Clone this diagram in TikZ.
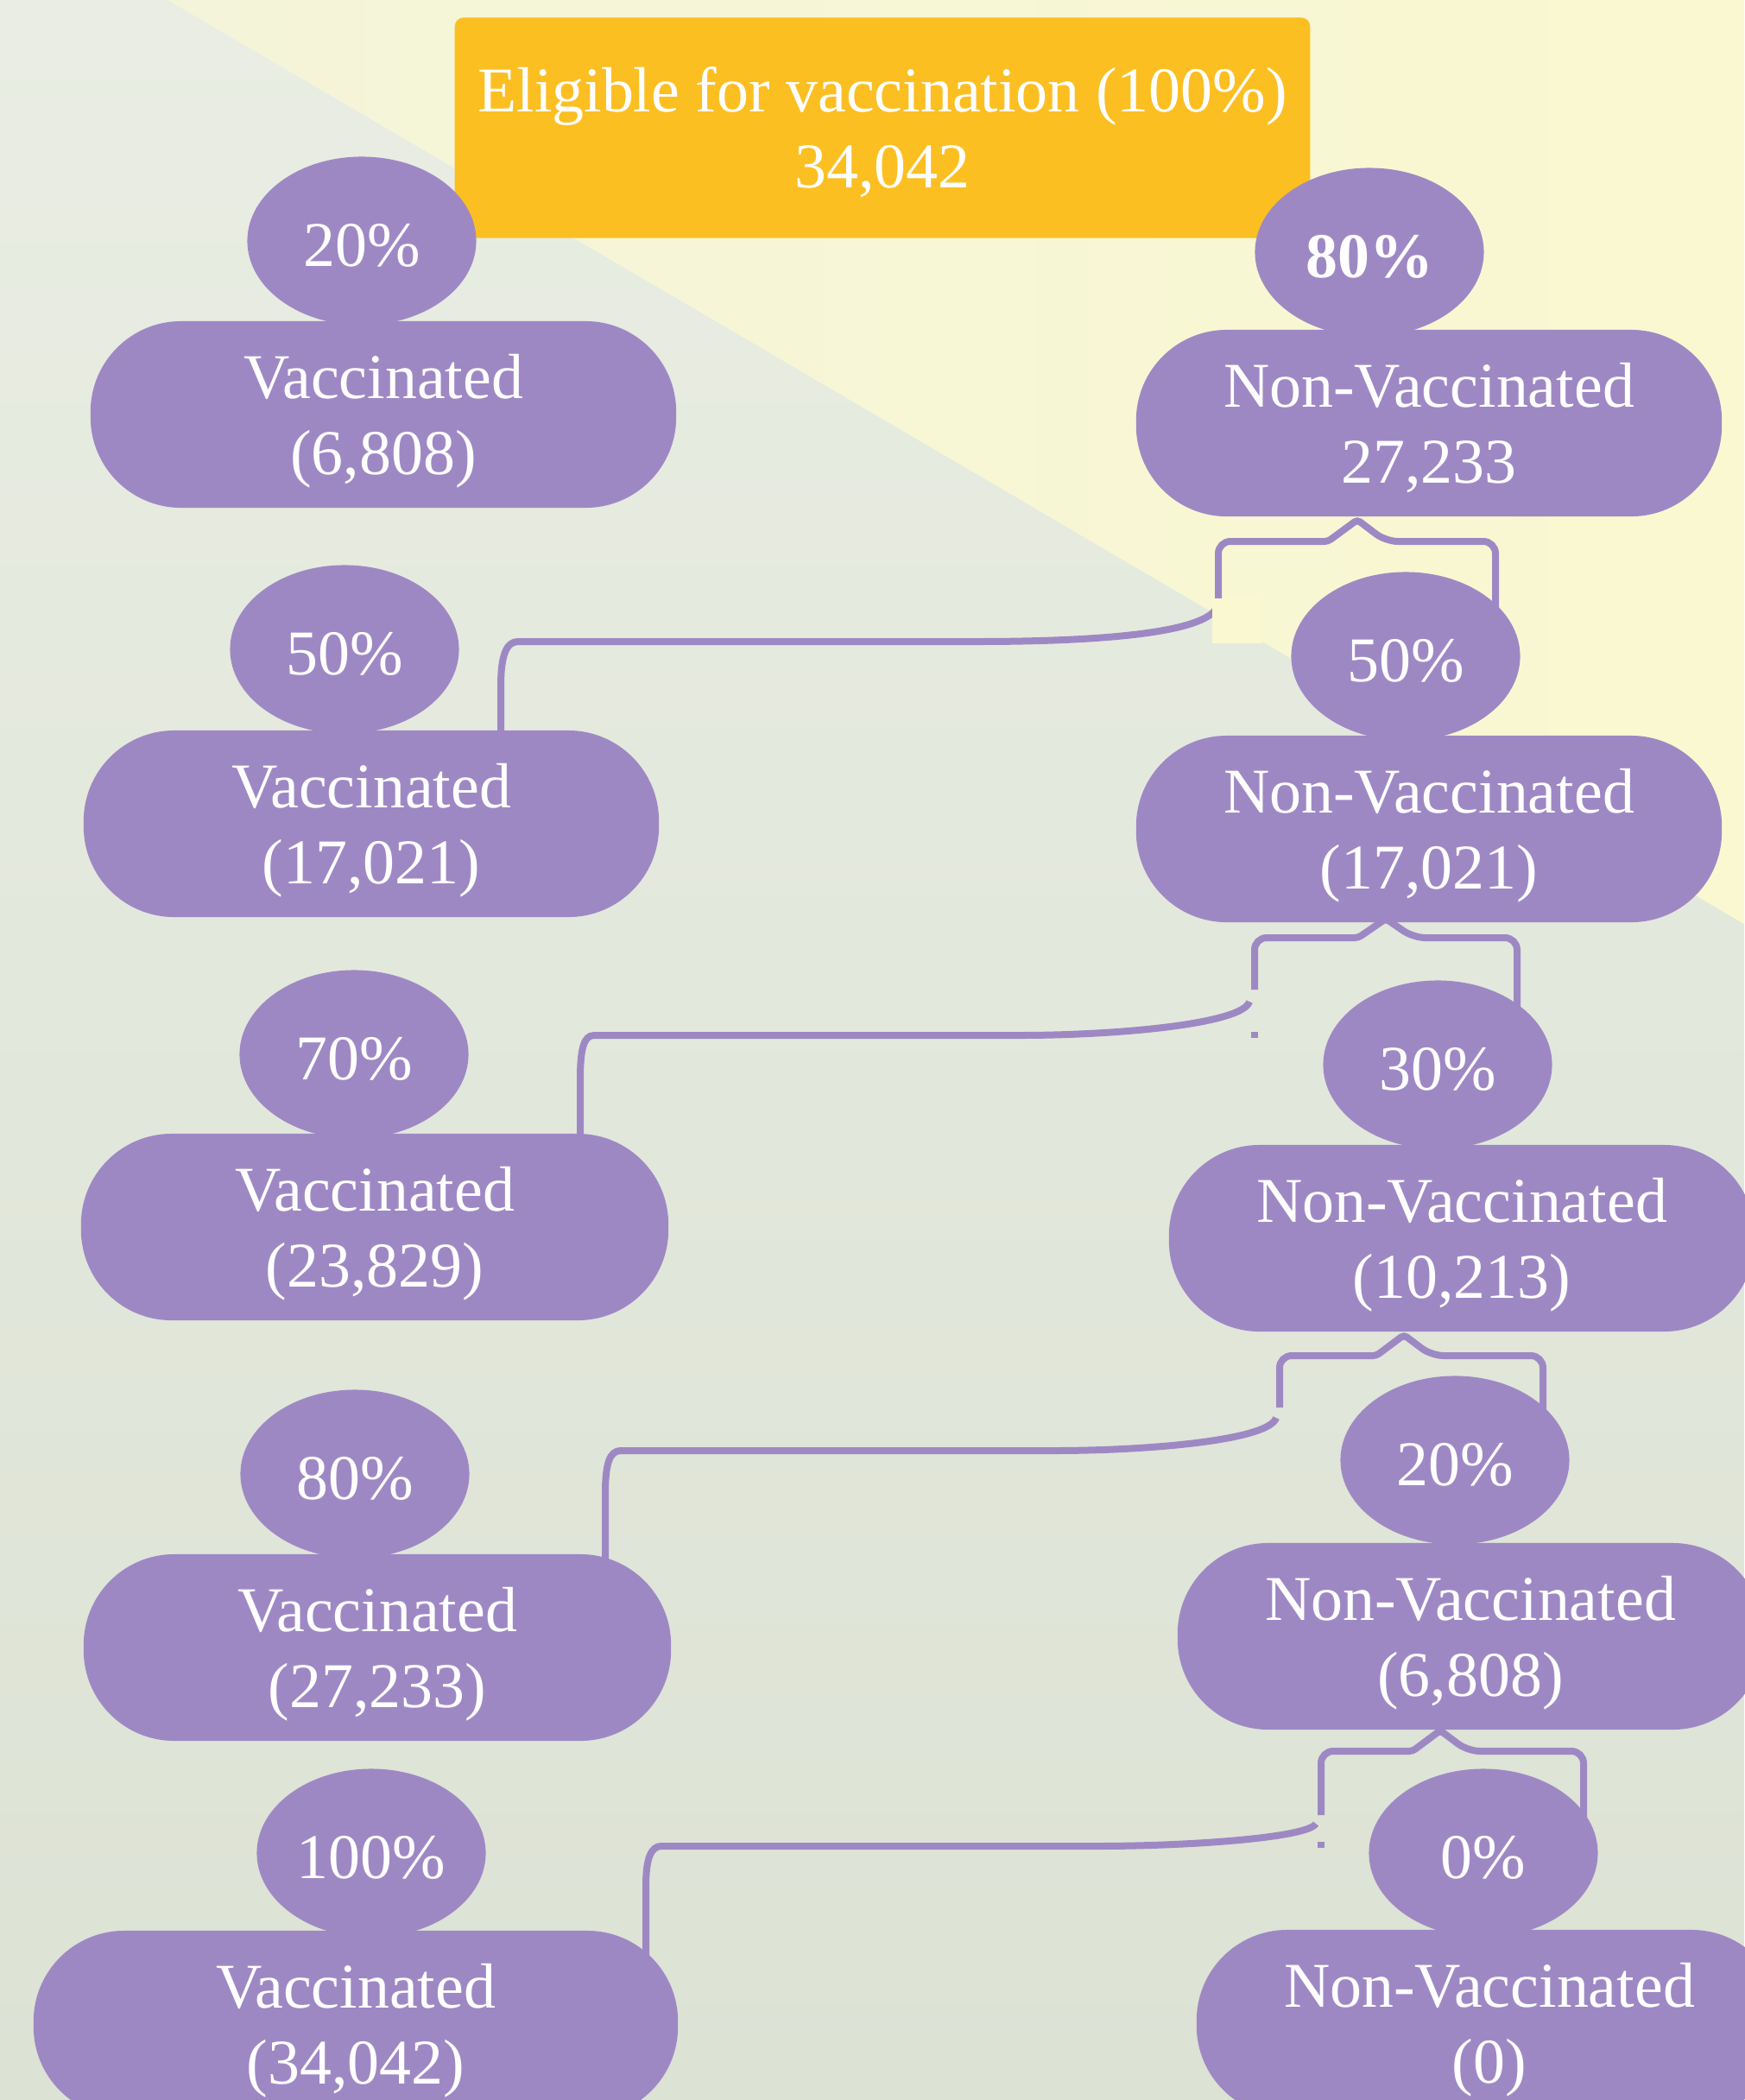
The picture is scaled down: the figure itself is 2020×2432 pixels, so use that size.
\documentclass[tikz,border=0pt]{standalone}
\usepackage{fontspec}
\setmainfont{Liberation Serif}
\usetikzlibrary{shapes.geometric,backgrounds}
\definecolor{lilac}{HTML}{9E88C4}
\definecolor{amber}{HTML}{FCBF22}
\definecolor{sageTop}{HTML}{E9EDE3}
\definecolor{sageBot}{HTML}{DCE2D4}
\definecolor{creamA}{HTML}{F4F4DA}
\definecolor{creamB}{HTML}{FAF8D0}

\begin{document}
\begin{tikzpicture}[x=0.01cm, y=-0.01cm,
  pct/.style={ellipse, fill=lilac, text=white, minimum width=2.65cm, minimum height=1.95cm, inner sep=0pt, text height=17pt, text depth=0pt, font=\fontsize{21}{25}\selectfont},
  group/.style={rectangle, fill=lilac, text=white, rounded corners=1.05cm, minimum width=6.78cm, minimum height=2.16cm, inner sep=0pt, align=center, text height=44pt, text depth=4.5pt, font=\fontsize{21}{25}\selectfont},
  link/.style={draw=lilac, line width=0.08cm}]
\useasboundingbox (0,0) rectangle (2020,2432);

% top box
\node[rectangle, fill=amber, text=white, rounded corners=0.1cm, minimum width=9.9cm, minimum height=2.55cm, align=center, text height=44pt, text depth=4.5pt, font=\fontsize{21}{25}\selectfont] (all) at (1022,148) {Eligible for vaccination (100\%)\\34,042};

% left column
\node[pct] (p20) at (419,279) {20\%};
\node[group] (v1) at (444,480) {Vaccinated\\(6,808)};
\node[pct] (p50) at (399,752) {50\%};
\node[group, minimum width=6.66cm] (v2) at (430,954) {Vaccinated\\(17,021)};
\node[pct] (p70) at (410,1221) {70\%};
\node[group, minimum width=6.8cm] (v3) at (434,1421) {Vaccinated\\(23,829)};
\node[pct] (p80) at (411,1707) {80\%};
\node[group, minimum width=6.8cm] (v4) at (437,1908) {Vaccinated\\(27,233)};
\node[pct] (p100) at (430,2146) {100\%};
\node[group, minimum width=7.46cm] (v5) at (412,2344) {Vaccinated\\(34,042)};

% right column
\node[pct] (q80) at (1586,292) {\textbf{80\%}};
\node[group] (n1) at (1655,490) {Non-Vaccinated\\27,233};
\node[pct] (q50) at (1628,760) {50\%};
\node[group] (n2) at (1655,960) {Non-Vaccinated\\(17,021)};
\node[pct] (q30) at (1665,1233) {30\%};
\node[group] (n3) at (1693,1434) {Non-Vaccinated\\(10,213)};
\node[pct] (q20) at (1685,1691) {20\%};
\node[group] (n4) at (1703,1895) {Non-Vaccinated\\(6,808)};
\node[pct] (q0) at (1718,2146) {0\%};
\node[group] (n5) at (1725,2343) {Non-Vaccinated\\(0)};

\begin{scope}[on background layer]
% background
\shade[top color=sageTop, bottom color=sageBot] (0,0) rectangle (2020,2432);
\shade[left color=creamA, right color=creamB] (194,0) -- (2020,0) -- (2020,1070) -- cycle;

% bracket n1 and link to v2
\draw[link, rounded corners=0.14cm] (1732,0 |- q50.center) -- (1732,627) -- (1605,627) [rounded corners=0.04cm] -- (1572,602) -- (1538,627) [rounded corners=0.14cm] -- (1411,627) -- (1411,700);
\draw[link] (1411,697) .. controls (1411,735) and (1260,743) .. (1130,743) -- (600,743) .. controls (586,743) and (580,760) .. (580,795) -- (580,0 |- v2.center);
\fill[creamB] (1404,693) rectangle (1462,745);

% bracket n2 and link to v3
\draw[link, rounded corners=0.14cm] (1757,0 |- q30.center) -- (1757,1086) -- (1637,1086) [rounded corners=0.04cm] -- (1605,1064) -- (1573,1086) [rounded corners=0.14cm] -- (1453,1086) -- (1453,1146);
\draw[link] (1447,1160) .. controls (1440,1185) and (1300,1199) .. (1180,1199) -- (688,1199) .. controls (676,1199) and (672,1215) .. (672,1250) -- (672,0 |- v3.center);
\draw[link] (1453,1195) -- (1453,1202);

% bracket n3 and link to v4
\draw[link, rounded corners=0.14cm] (1787,0 |- q20.center) -- (1787,1570) -- (1658,1570) [rounded corners=0.04cm] -- (1626,1546) -- (1594,1570) [rounded corners=0.14cm] -- (1482,1570) -- (1482,1630);
\draw[link] (1478,1642) .. controls (1470,1668) and (1330,1680) .. (1220,1680) -- (719,1680) .. controls (706,1680) and (701,1695) .. (701,1730) -- (701,0 |- v4.center);

% bracket n4 and link to v5
\draw[link, rounded corners=0.14cm] (1834,0 |- q0.center) -- (1834,2028) -- (1700,2028) [rounded corners=0.04cm] -- (1668,2004) -- (1636,2028) [rounded corners=0.14cm] -- (1530,2028) -- (1530,2102);
\draw[link] (1524,2112) .. controls (1515,2128) and (1380,2138) .. (1270,2138) -- (766,2138) .. controls (754,2138) and (748,2152) .. (748,2185) -- (748,0 |- v5.center);
\draw[link] (1530,2133) -- (1530,2140);
\end{scope}

\end{tikzpicture}
\end{document}
